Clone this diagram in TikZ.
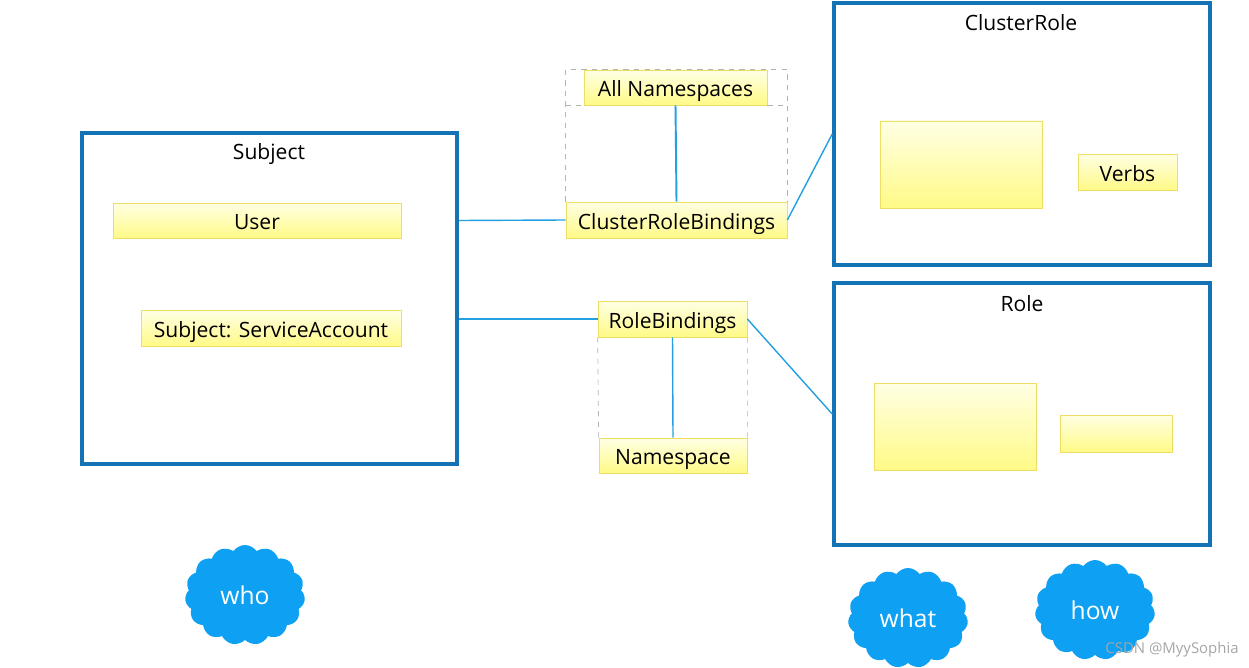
\documentclass[tikz,border=0pt]{standalone}
\usepackage{fontspec}
\setmainfont{Open Sans}
\usepackage{xcolor}
\usetikzlibrary{positioning, shapes.symbols}

\definecolor{frameblue}{RGB}{20,115,180}
\definecolor{linkblue}{RGB}{35,160,225}
\definecolor{cloudblue}{RGB}{14,160,242}
\definecolor{ylight}{RGB}{255,255,228}
\definecolor{ydark}{RGB}{255,250,135}
\definecolor{yborder}{RGB}{240,222,100}

\begin{document}
\begin{tikzpicture}[every node/.style={font=\fontsize{12}{14}\selectfont}]
  \tikzset{frame/.style={draw=frameblue, line width=2pt, inner sep=0pt},
           note/.style={draw=yborder, top color=ylight, bottom color=ydark,
                        inner sep=0pt, text height=10.4pt, text depth=0pt},
           link/.style={draw=linkblue, line width=0.8pt},
           puff/.style={cloud, cloud puffs=15, cloud puff arc=110, aspect=1.2,
                        fill=cloudblue, text=white, inner sep=0pt,
                        minimum width=2.4cm, minimum height=2cm,
                        font=\fontsize{14}{16}\selectfont}}
  \useasboundingbox (0,0) rectangle (24.98,-13.34);
  % who
  \node[frame, minimum width=7.5cm, minimum height=6.62cm] (subject) at (5.39,-5.97) {};
  \node (subjtitle) at (5.38,-3.08) {Subject};
  \node[note, minimum width=5.76cm, minimum height=0.7cm] (user) at (5.14,-4.41) {User};
  \node[note, minimum width=5.2cm, minimum height=0.72cm] (sa) at (5.42,-6.56) {Subject: ServiceAccount};
  % bindings
  \node[note, minimum width=4.42cm, minimum height=0.72cm] (crb) at (13.53,-4.4) {ClusterRoleBindings};
  \node[note, minimum width=3.66cm, minimum height=0.7cm] (allns) at (13.51,-1.75) {All Namespaces};
  \node[note, minimum width=2.98cm, minimum height=0.72cm] (rb) at (13.45,-6.38) {RoleBindings};
  \node[note, minimum width=2.96cm, minimum height=0.7cm] (ns) at (13.46,-9.11) {Namespace};
  \draw[dashed, gray!60, line width=0.4pt] (crb.north west) -- (crb.west |- allns.north)
    -- (crb.east |- allns.north) -- (crb.north east);
  \draw[dashed, gray!60, line width=0.4pt] (crb.west |- allns.south) -- (allns.south west);
  \draw[dashed, gray!60, line width=0.4pt] (allns.south east) -- (crb.east |- allns.south);
  \draw[dashed, gray!60, line width=0.4pt] (rb.south west) -- (ns.north west);
  \draw[dashed, gray!60, line width=0.4pt] (rb.south east) -- (ns.north east);
  \draw[link, line width=1.1pt] (allns.south) -- (crb.north);
  \draw[link] (rb.south) -- (ns.north);
  % what / how
  \node[frame, minimum width=7.52cm, minimum height=5.24cm] (crole) at (20.44,-2.68) {};
  \node (croletitle) at (20.42,-0.46) {ClusterRole};
  \node[note, minimum width=3.24cm, minimum height=1.74cm] (crres) at (19.22,-3.29) {};
  \node[note, minimum width=1.98cm, minimum height=0.72cm] (verbs) at (22.55,-3.44) {Verbs};
  \node[frame, minimum width=7.52cm, minimum height=5.24cm] (role) at (20.44,-8.28) {};
  \node (roletitle) at (20.44,-6.08) {Role};
  \node[note, minimum width=3.24cm, minimum height=1.74cm] (rres) at (19.1,-8.53) {};
  \node[note, minimum width=2.24cm, minimum height=0.74cm] (rverbs) at (22.32,-8.67) {};
  % connectors
  \draw[link] (subject.east |- user.east) -- (crb.west);
  \draw[link] (subject.east |- rb.west) -- (rb.west);
  \draw[link] (crb.east) -- (crole.west);
  \draw[link] (rb.east) -- (role.west);
  % clouds
  \node[puff] (who) at (4.9,-11.9) {who};
  \node[puff] (what) at (18.16,-12.36) {what};
  \node[puff] (how) at (21.9,-12.2) {how};
  \node[text=gray!70, font=\fontsize{8.5}{10}\selectfont] (mark) at (23.44,-13.0) {CSDN @MyySophia};
\end{tikzpicture}
\end{document}
